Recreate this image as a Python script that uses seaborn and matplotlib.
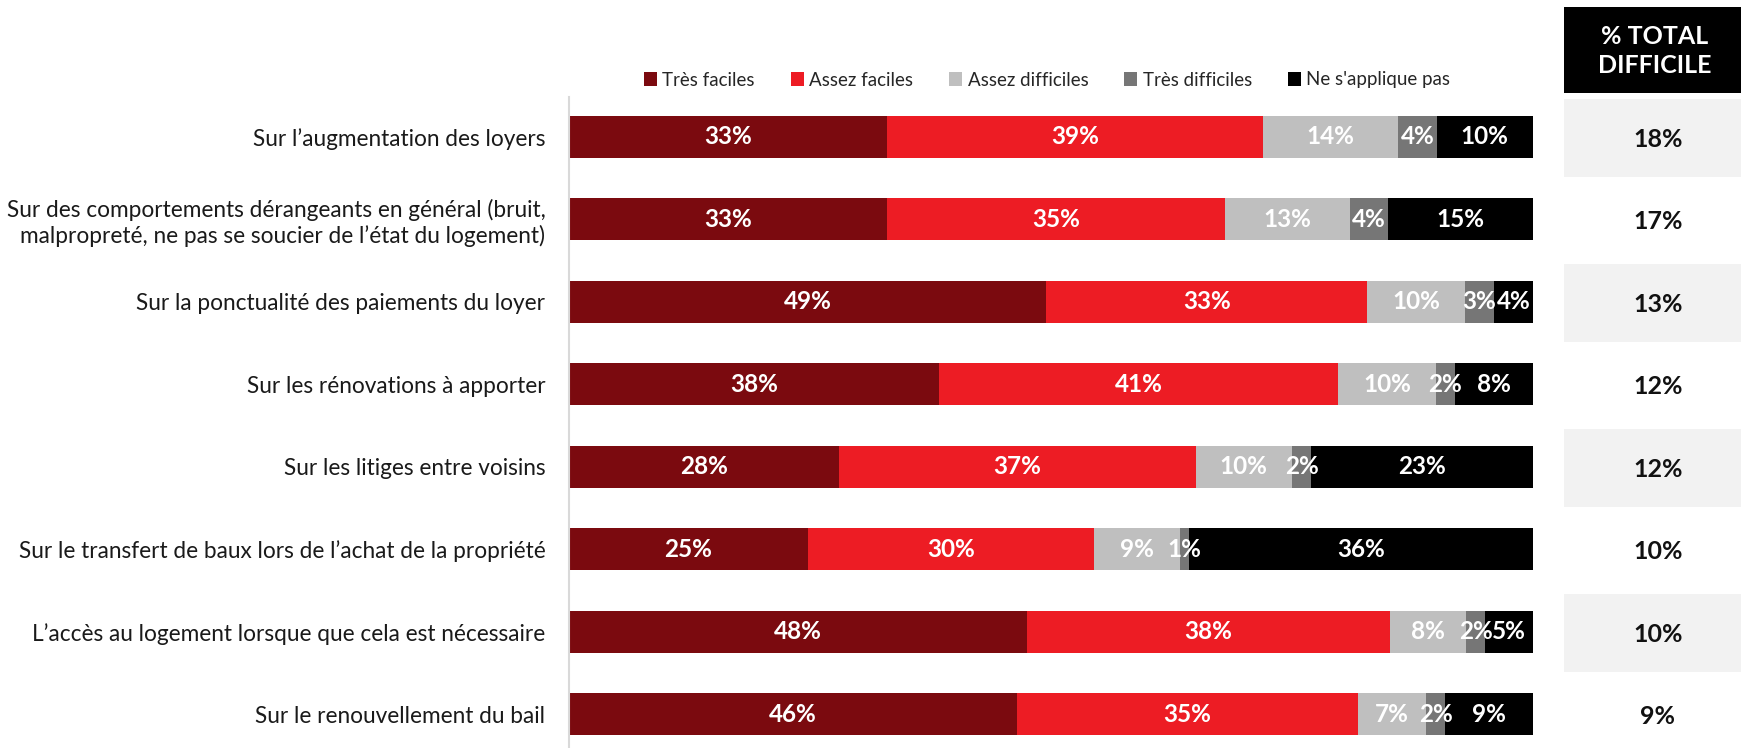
import numpy as np
import pandas as pd
import matplotlib
matplotlib.use("Agg")
import matplotlib.pyplot as plt
from matplotlib.patches import Patch, Rectangle
import seaborn as sns

sns.set_theme(style="white")
plt.rcParams["font.family"] = ["Lato", "DejaVu Sans"]

categories = [
    "Sur l’augmentation des loyers",
    "Sur des comportements dérangeants en général (bruit,\nmalpropreté, ne pas se soucier de l’état du logement)",
    "Sur la ponctualité des paiements du loyer",
    "Sur les rénovations à apporter",
    "Sur les litiges entre voisins",
    "Sur le transfert de baux lors de l’achat de la propriété",
    "L’accès au logement lorsque que cela est nécessaire",
    "Sur le renouvellement du bail",
]
series_names = ["Très faciles", "Assez faciles", "Assez difficiles",
                "Très difficiles", "Ne s'applique pas"]
tres_faciles = [33, 33, 49, 38, 28, 25, 48, 46]
assez_faciles = [39, 35, 33, 41, 37, 30, 38, 35]
assez_difficiles = [14, 13, 10, 10, 10, 9, 8, 7]
tres_difficiles = [4, 4, 3, 2, 2, 1, 2, 2]
ne_s_applique_pas = [10, 15, 4, 8, 23, 36, 5, 9]
colors = ["#7B0A0F", "#ED1C24", "#BFBFBF", "#767676", "#000000"]

values = np.array([tres_faciles, assez_faciles, assez_difficiles,
                   tres_difficiles, ne_s_applique_pas], dtype=float).T
total_difficile = np.array(assez_difficiles) + np.array(tres_difficiles)

# 100% stacked: each row is scaled to its own total
shares = values / values.sum(axis=1, keepdims=True) * 100
cum = np.cumsum(shares, axis=1)
left = cum - shares

W, H = 1741, 748
fig = plt.figure(figsize=(W / 100, H / 100), dpi=100)

ax_top = 97 / H
ax = fig.add_axes([569 / W, 0.0, (1533 - 569) / W, 1 - ax_top])

# draw cumulative bars from the outermost segment inwards
for k in range(len(series_names) - 1, -1, -1):
    df = pd.DataFrame({"cat": categories, "val": cum[:, k]})
    sns.barplot(data=df, x="val", y="cat", orient="h", color=colors[k],
                saturation=1, width=0.51, linewidth=0, ax=ax)

for i in range(len(categories)):
    for k in range(len(series_names)):
        cx = left[i, k] + shares[i, k] / 2
        ax.text(cx, i, f"{int(values[i, k])}%", ha="center", va="center",
                color="white", fontsize=17.5, fontweight="bold")

ylim = (7.41, -0.48)
ax.set_xlim(0, 100)
ax.set_ylim(*ylim)
ax.set_xlabel("")
ax.set_ylabel("")
ax.set_xticks([])
ax.tick_params(axis="y", length=0, pad=17, labelsize=16.3, labelcolor="#1a1a1a")
for s in ["top", "right", "bottom"]:
    ax.spines[s].set_visible(False)
ax.spines["left"].set_color("#D9D9D9")
ax.spines["left"].set_linewidth(1.5)

# right-hand summary column
ax2 = fig.add_axes([1564 / W, 0.0, (W - 1564) / W, 1 - ax_top], sharey=ax)
ax2.set_xlim(0, 1)
ax2.axis("off")
for i in range(len(categories)):
    if i % 2 == 0:
        ax2.add_patch(Rectangle((0, i - 0.46), 1, 0.95,
                                facecolor="#F2F2F2", edgecolor="none"))
    ax2.text(0.53, i + 0.03, f"{total_difficile[i]}%", ha="center", va="center",
             fontsize=18, fontweight="bold", color="#111111")
ax2.set_ylim(*ylim)

fig.add_artist(Rectangle((1564 / W, 1 - 93 / H), (W - 1564) / W, 86 / H,
                         transform=fig.transFigure, facecolor="black",
                         edgecolor="none"))
fig.text(1655 / W, 1 - 51 / H, "% TOTAL\nDIFFICILE", ha="center", va="center",
         color="white", fontsize=18, fontweight="bold", linespacing=1.35)

handles = [Patch(facecolor=c, edgecolor="none") for c in colors]
fig.legend(handles, series_names, loc="center", ncol=5,
           bbox_to_anchor=(1047 / W, 1 - 80 / H), frameon=False,
           fontsize=13.5, handlelength=0.7, handleheight=0.7,
           handletextpad=0.3, columnspacing=1.9)

fig.savefig("out.png", dpi=100)
